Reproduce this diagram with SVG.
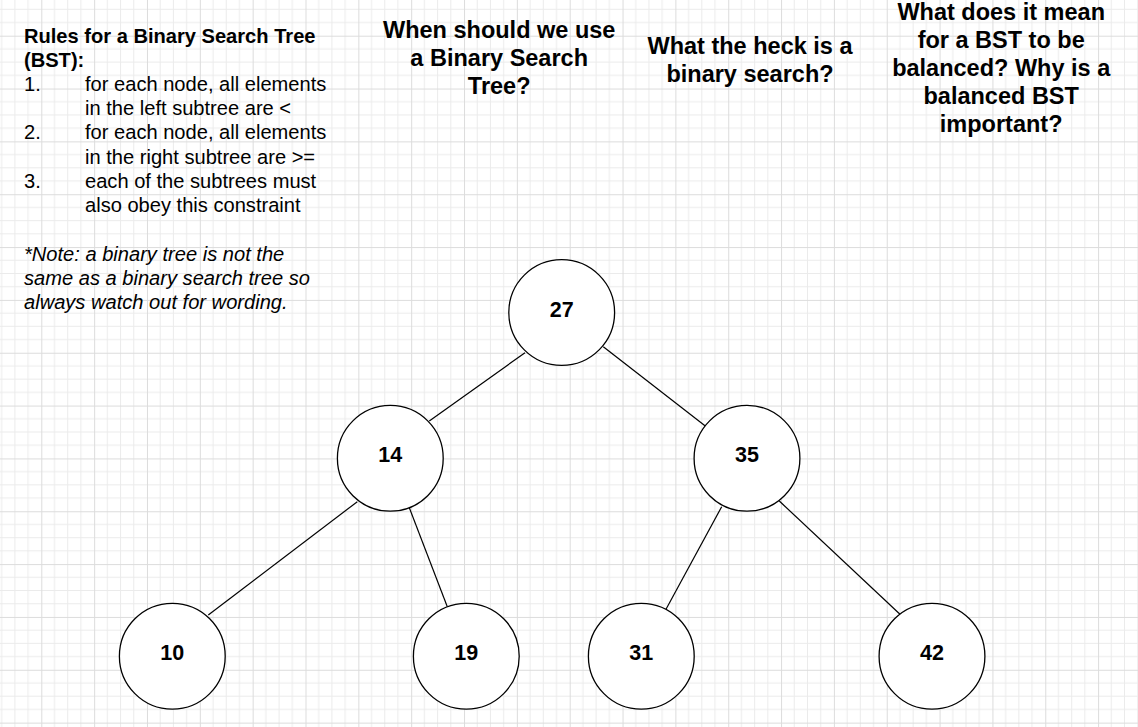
<svg xmlns="http://www.w3.org/2000/svg" width="1138" height="727" viewBox="0 0 1138 727">
<defs>
<pattern id="grid" patternUnits="userSpaceOnUse" x="41.3" y="35.7" width="52.84" height="52.84">
<path d="M13.21 0V52.84M26.42 0V52.84M39.63 0V52.84M0 13.21H52.84M0 26.42H52.84M0 39.63H52.84" stroke="#ebebeb" stroke-width="1" fill="none"/>
<path d="M0.5 0V52.84M0 0.5H52.84" stroke="#dcdcdc" stroke-width="1" fill="none"/>
</pattern>
</defs>
<style>
.h{font-family:"Liberation Sans",Arial,sans-serif;font-weight:bold;font-size:23.5px;fill:#000;text-anchor:middle}
.b{font-family:"Liberation Sans",Arial,sans-serif;font-size:20.1px;fill:#000}
.bb{font-weight:bold}
.i{font-style:italic}
.node circle{fill:#fff;stroke:#000;stroke-width:1.3}
.node text{font-family:"Liberation Sans",Arial,sans-serif;font-weight:bold;font-size:21.5px;fill:#000;text-anchor:middle}
.edges line{stroke:#000;stroke-width:1.2}
</style>
<rect width="1138" height="727" fill="#fff"/>
<rect width="1138" height="727" fill="url(#grid)"/>

<g id="rules">
<text class="b bb" x="24" y="42.5">Rules for a Binary Search Tree</text>
<text class="b bb" x="24" y="66.7">(BST):</text>
<text class="b" x="24" y="90.9">1.</text>
<text class="b" x="85" y="90.9">for each node, all elements</text>
<text class="b" x="85" y="115.1">in the left subtree are &lt;</text>
<text class="b" x="24" y="139.3">2.</text>
<text class="b" x="85" y="139.3">for each node, all elements</text>
<text class="b" x="85" y="163.5">in the right subtree are &gt;=</text>
<text class="b" x="24" y="187.7">3.</text>
<text class="b" x="85" y="187.7">each of the subtrees must</text>
<text class="b" x="85" y="211.9">also obey this constraint</text>
</g>

<g id="note">
<text class="b i" x="24" y="261.3">*Note: a binary tree is not the</text>
<text class="b i" x="24" y="285.3">same as a binary search tree so</text>
<text class="b i" x="24" y="309.3">always watch out for wording.</text>
</g>

<g id="q1">
<text class="h" x="499.2" y="37.5">When should we use</text>
<text class="h" x="499.2" y="65.9">a Binary Search</text>
<text class="h" x="499.2" y="94.3">Tree?</text>
</g>
<g id="q2">
<text class="h" x="750" y="53.5">What the heck is a</text>
<text class="h" x="750" y="81.9">binary search?</text>
</g>
<g id="q3">
<text class="h" x="1001.2" y="19.5">What does it mean</text>
<text class="h" x="1001.2" y="47.7">for a BST to be</text>
<text class="h" x="1001.2" y="75.9">balanced? Why is a</text>
<text class="h" x="1001.2" y="104.1">balanced BST</text>
<text class="h" x="1001.2" y="132.3">important?</text>
</g>

<g id="connectors" class="edges">
<line x1="525" y1="352.7" x2="429.3" y2="421"/>
<line x1="603.3" y1="346.7" x2="705" y2="425.7"/>
<line x1="357.3" y1="501.7" x2="208.3" y2="615"/>
<line x1="409.3" y1="507.7" x2="447.3" y2="606.7"/>
<line x1="721.7" y1="506.7" x2="666" y2="609.3"/>
<line x1="779.3" y1="501" x2="900" y2="614.3"/>
</g>

<g id="n27" class="node"><circle cx="561.7" cy="312.5" r="52.9"/><text x="561.7" y="316.5">27</text></g>
<g id="n14" class="node"><circle cx="390.3" cy="458.3" r="52.9"/><text x="390.3" y="462.1">14</text></g>
<g id="n35" class="node"><circle cx="747" cy="458.3" r="52.9"/><text x="747" y="462.1">35</text></g>
<g id="n10" class="node"><circle cx="172.3" cy="656.2" r="52.9"/><text x="172.3" y="660">10</text></g>
<g id="n19" class="node"><circle cx="466.3" cy="656.2" r="52.9"/><text x="466.3" y="660">19</text></g>
<g id="n31" class="node"><circle cx="641.3" cy="656.2" r="52.9"/><text x="641.3" y="660">31</text></g>
<g id="n42" class="node"><circle cx="932" cy="656.2" r="52.9"/><text x="932" y="660">42</text></g>
</svg>
